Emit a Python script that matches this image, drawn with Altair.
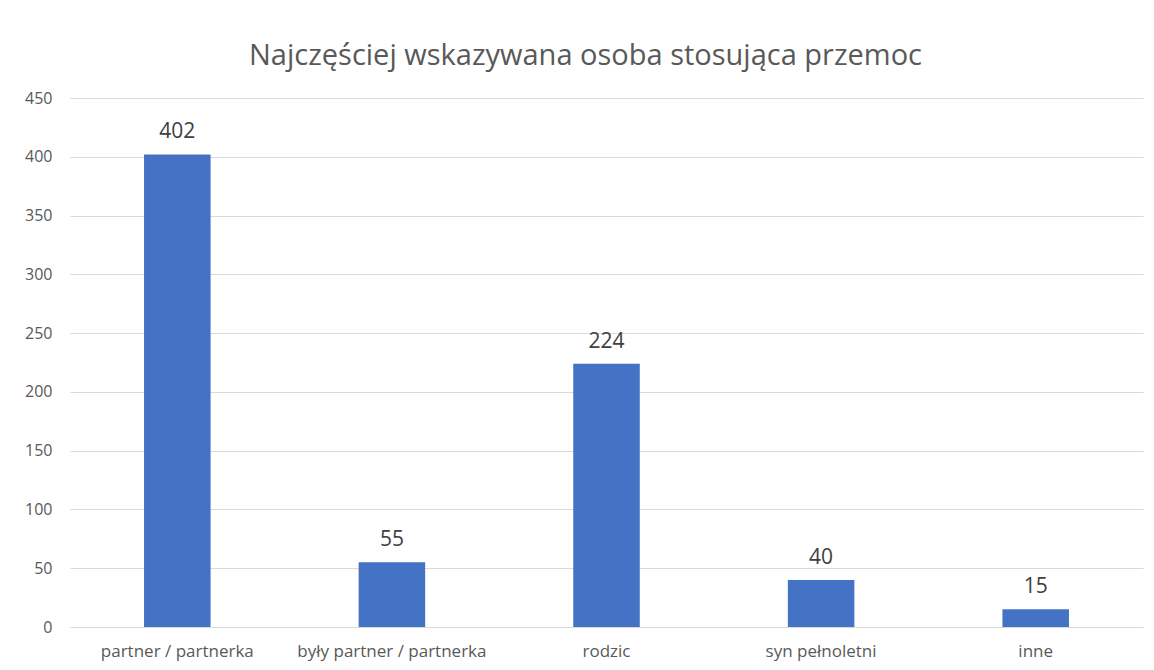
import altair as alt
import pandas as pd

categories = ["partner / partnerka", "były partner / partnerka", "rodzic", "syn pełnoletni", "inne"]
values = [402, 55, 224, 40, 15]
title_text = "Najczęściej wskazywana osoba stosująca przemoc"

df = pd.DataFrame({"kategoria": categories, "liczba": values})

FONT = "Open Sans"

base = alt.Chart(df).encode(
    x=alt.X("kategoria:N", sort=categories, title=None,
            scale=alt.Scale(paddingInner=0.69, paddingOuter=0.345),
            axis=alt.Axis(labelAngle=0, labelFontSize=17, labelColor="#595959",
                          labelFont=FONT, ticks=False, domain=True, grid=False,
                          labelLimit=400,
                          domainColor="#d9d9d9", labelPadding=16)),
    y=alt.Y("liczba:Q", title=None,
            scale=alt.Scale(domain=[0, 450]),
            axis=alt.Axis(values=list(range(0, 451, 50)), labelFontSize=16,
                          labelColor="#595959", labelFont=FONT, ticks=False,
                          domain=False, gridColor="#d9d9d9", labelPadding=18)),
)

bars = base.mark_bar(color="#4472C4")
labels = base.mark_text(dy=-12, baseline="bottom", fontSize=21, font=FONT,
                        color="#404040").encode(text="liczba:Q")

chart = (bars + labels).properties(
    width=1073, height=529,
    padding={"left": 62, "top": 90, "right": 3, "bottom": 35},
    autosize=alt.AutoSizeParams(type="none"),
    background="white",
    title=alt.TitleParams(title_text, fontSize=29, font=FONT, fontWeight="normal",
                          color="#595959", anchor="middle", dx=-21, offset=19),
).configure_view(strokeWidth=0)

chart.save("out.html", embed_options={"renderer": "svg", "actions": False})
